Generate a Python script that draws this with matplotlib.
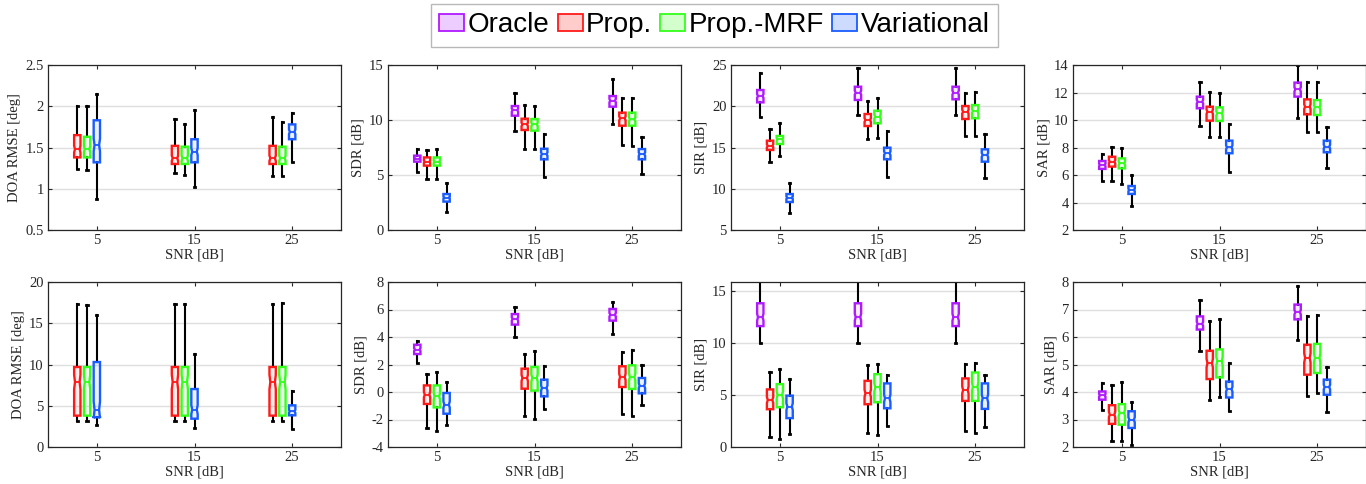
import numpy as np
import matplotlib
matplotlib.use("Agg")
import matplotlib.pyplot as plt
from matplotlib.patches import Patch

SNR = [5, 15, 25]
METHODS = ["Oracle", "Prop.", "Prop.-MRF", "Variational"]
COLORS = ["#B01AFF", "#FF1A1A", "#33FF1A", "#1A5CFF"]

# each entry: (whisker low, q1, median, q3, whisker high) for SNR 5, 15, 25
# --- top row ---
DOA1_PROP = [(1.24, 1.38, 1.48, 1.65, 2.00), (1.19, 1.30, 1.37, 1.52, 1.85), (1.15, 1.30, 1.37, 1.52, 1.87)]
DOA1_MRF = [(1.23, 1.38, 1.48, 1.63, 2.00), (1.17, 1.30, 1.37, 1.51, 1.79), (1.15, 1.30, 1.37, 1.51, 1.81)]
DOA1_VAR = [(0.88, 1.32, 1.53, 1.83, 2.15), (1.02, 1.32, 1.45, 1.60, 1.96), (1.32, 1.60, 1.69, 1.78, 1.92)]

SDR1_ORA = [(5.24, 6.21, 6.50, 6.76, 7.40), (9.00, 10.39, 10.90, 11.27, 12.50), (9.60, 11.21, 11.76, 12.18, 13.70)]
SDR1_PROP = [(4.67, 5.85, 6.20, 6.60, 7.27), (7.36, 9.09, 9.60, 10.12, 11.36), (7.73, 9.48, 10.15, 10.67, 12.00)]
SDR1_MRF = [(4.67, 5.85, 6.20, 6.60, 7.33), (7.36, 9.03, 9.60, 10.09, 11.30), (7.60, 9.48, 10.06, 10.67, 12.00)]
SDR1_VAR = [(1.60, 2.58, 2.94, 3.27, 4.30), (4.85, 6.42, 6.90, 7.39, 8.73), (5.06, 6.42, 6.90, 7.36, 8.48)]

SIR1_ORA = [(18.66, 20.47, 21.24, 21.97, 24.07), (18.94, 20.76, 21.65, 22.37, 24.60), (18.94, 20.84, 21.65, 22.37, 24.68)]
SIR1_PROP = [(13.28, 14.70, 15.20, 15.83, 17.24), (16.07, 17.60, 18.33, 19.06, 20.68), (16.40, 18.45, 19.34, 20.03, 21.65)]
SIR1_MRF = [(13.97, 15.42, 15.99, 16.40, 17.93), (16.19, 17.93, 18.74, 19.46, 21.05), (16.43, 18.54, 19.42, 20.15, 21.77)]
SIR1_VAR = [(7.10, 8.39, 8.92, 9.36, 10.74), (11.46, 13.57, 14.30, 14.98, 17.00), (11.26, 13.28, 14.10, 14.78, 16.60)]

SAR1_ORA = [(5.56, 6.44, 6.73, 7.02, 7.53), (9.59, 10.85, 11.33, 11.70, 12.79), (10.17, 11.70, 12.23, 12.72, 14.00)]
SAR1_PROP = [(5.56, 6.61, 6.97, 7.33, 8.06), (8.79, 9.95, 10.60, 10.97, 12.06), (9.15, 10.41, 10.97, 11.50, 12.74)]
SAR1_MRF = [(5.35, 6.48, 6.85, 7.21, 7.94), (8.74, 9.93, 10.48, 10.92, 11.99), (9.15, 10.36, 10.92, 11.45, 12.74)]
SAR1_VAR = [(3.75, 4.62, 4.91, 5.20, 6.00), (6.19, 7.58, 8.01, 8.50, 9.68), (6.48, 7.65, 8.06, 8.50, 9.52)]

# --- bottom row ---
DOA2_PROP = [(3.11, 3.80, 7.88, 9.70, 17.33), (3.11, 3.80, 7.88, 9.70, 17.33), (3.11, 3.80, 7.88, 9.70, 17.30)]
DOA2_MRF = [(3.11, 3.80, 7.88, 9.70, 17.25), (3.11, 3.80, 7.88, 9.70, 17.33), (3.11, 3.80, 7.88, 9.70, 17.40)]
DOA2_VAR = [(2.70, 3.60, 4.50, 10.30, 16.00), (2.30, 3.43, 4.53, 7.03, 11.27), (2.18, 3.84, 4.32, 5.05, 6.75)]

SDR2_ORA = [(2.11, 2.76, 3.08, 3.44, 3.68), (4.00, 4.90, 5.31, 5.67, 6.18), (4.24, 5.19, 5.62, 6.04, 6.55)]
SDR2_PROP = [(-2.62, -0.87, -0.19, 0.48, 1.31), (-1.77, 0.24, 1.02, 1.70, 2.79), (-1.58, 0.36, 1.09, 1.87, 2.91)]
SDR2_MRF = [(-2.86, -1.12, -0.32, 0.48, 1.43), (-1.94, 0.10, 1.02, 1.82, 2.96), (-1.77, 0.22, 1.09, 1.94, 3.03)]
SDR2_VAR = [(-2.42, -1.58, -0.92, -0.07, 0.73), (-1.24, -0.32, 0.29, 0.90, 1.87), (-0.97, -0.10, 0.46, 1.02, 1.99)]

SIR2_ORA = [(10.02, 11.65, 12.51, 13.85, 16.20), (10.00, 11.65, 12.51, 13.85, 16.20), (10.00, 11.65, 12.51, 13.85, 16.20)]
SIR2_PROP = [(0.93, 3.64, 4.53, 5.55, 7.24), (1.34, 4.12, 5.17, 6.38, 7.88), (1.50, 4.44, 5.49, 6.61, 7.98)]
SIR2_MRF = [(0.80, 3.83, 5.01, 6.06, 7.56), (1.18, 4.31, 5.74, 7.02, 8.04), (1.34, 4.44, 5.81, 7.18, 8.10)]
SIR2_VAR = [(1.24, 2.78, 3.89, 4.95, 6.51), (1.98, 3.73, 4.69, 6.13, 6.92), (1.88, 3.67, 4.69, 6.13, 6.92)]

SAR2_ORA = [(3.33, 3.72, 3.88, 4.02, 4.33), (5.50, 6.27, 6.48, 6.75, 7.33), (5.90, 6.64, 6.90, 7.18, 7.84)]
SAR2_PROP = [(2.21, 2.84, 3.18, 3.52, 4.24), (3.72, 4.47, 5.05, 5.50, 6.59), (3.87, 4.63, 5.24, 5.72, 6.75)]
SAR2_MRF = [(2.21, 2.81, 3.24, 3.56, 4.35), (3.82, 4.53, 5.12, 5.55, 6.65), (3.96, 4.69, 5.24, 5.75, 6.81)]
SAR2_VAR = [(2.06, 2.69, 2.99, 3.30, 3.64), (3.30, 3.80, 4.10, 4.38, 5.05), (3.27, 3.90, 4.18, 4.45, 4.91)]

PANELS = [
    # (series {method index: data}, ylabel, ylim, yticks)
    ({1: DOA1_PROP, 2: DOA1_MRF, 3: DOA1_VAR}, "DOA RMSE [deg]", (0.5, 2.5), [0.5, 1, 1.5, 2, 2.5]),
    ({0: SDR1_ORA, 1: SDR1_PROP, 2: SDR1_MRF, 3: SDR1_VAR}, "SDR [dB]", (0, 15), [0, 5, 10, 15]),
    ({0: SIR1_ORA, 1: SIR1_PROP, 2: SIR1_MRF, 3: SIR1_VAR}, "SIR [dB]", (5, 25), [5, 10, 15, 20, 25]),
    ({0: SAR1_ORA, 1: SAR1_PROP, 2: SAR1_MRF, 3: SAR1_VAR}, "SAR [dB]", (2, 14), [2, 4, 6, 8, 10, 12, 14]),
    ({1: DOA2_PROP, 2: DOA2_MRF, 3: DOA2_VAR}, "DOA RMSE [deg]", (0, 20), [0, 5, 10, 15, 20]),
    ({0: SDR2_ORA, 1: SDR2_PROP, 2: SDR2_MRF, 3: SDR2_VAR}, "SDR [dB]", (-4, 8), [-4, -2, 0, 2, 4, 6, 8]),
    ({0: SIR2_ORA, 1: SIR2_PROP, 2: SIR2_MRF, 3: SIR2_VAR}, "SIR [dB]", (0, 15.9), [0, 5, 10, 15]),
    ({0: SAR2_ORA, 1: SAR2_PROP, 2: SAR2_MRF, 3: SAR2_VAR}, "SAR [dB]", (2, 8), [2, 3, 4, 5, 6, 7, 8]),
]

plt.rcParams["font.family"] = ["Liberation Serif", "DejaVu Serif"]
plt.rcParams["font.size"] = 10.5

fig = plt.figure(figsize=(13.66, 4.84), dpi=100)
W, H = 1366, 484
lefts = [48, 388, 731, 1073]
tops = [65, 282]
aw, ah = 293, 165
BW = 0.65  # box width in x units

for k, (series, ylabel, ylim, yticks) in enumerate(PANELS):
    row, col = divmod(k, 4)
    ax = fig.add_axes([lefts[col] / W, 1 - (tops[row] + ah) / H, aw / W, ah / H])
    for j, (m, data) in enumerate(series.items()):
        # offsets: 4 methods -> -2..+1 ; 3 methods -> -2..0
        off = j - 2
        stats = []
        for lo, q1, med, q3, hi in data:
            ci = 0.15 * (q3 - q1)
            stats.append(dict(whislo=lo, q1=q1, med=med, q3=q3, whishi=hi,
                              cilo=med - ci, cihi=med + ci, fliers=[]))
        c = COLORS[m]
        pos = [s + off for s in SNR]
        art = ax.bxp(stats, positions=pos, widths=BW, shownotches=True,
                     showfliers=False, patch_artist=True, capwidths=0.12,
                     boxprops=dict(edgecolor=c, facecolor=matplotlib.colors.to_rgba(c, 0.08), lw=1.7, zorder=3),
                     medianprops=dict(color=c, lw=1.3, zorder=4),
                     whiskerprops=dict(color="black", lw=1.5, zorder=2),
                     capprops=dict(color="black", lw=2, zorder=2))
        # shallower notch waist, closer to the MATLAB look
        for box, p, ml in zip(art["boxes"], pos, art["medians"]):
            path = box.get_path()
            v = path.vertices
            waist = np.abs(v[:, 0] - p) < BW * 0.4
            v[waist, 0] = p + np.sign(v[waist, 0] - p) * BW * 0.36
            ml.set_xdata([p - BW * 0.36, p + BW * 0.36])
    ax.set_xlim(0, 30)
    ax.set_ylim(*ylim)
    ax.set_xticks(SNR)
    ax.set_xticklabels([str(s) for s in SNR])
    ax.set_yticks(yticks)
    ax.set_yticklabels([f"{t:g}" for t in yticks])
    ax.set_xlabel("SNR [dB]", labelpad=1, color="#262626")
    ax.set_ylabel(ylabel, labelpad=3, color="#262626")
    ax.yaxis.grid(True, color="#DFDFDF", lw=1)
    ax.set_axisbelow(True)
    ax.tick_params(direction="in", length=3, top=True, right=True,
                   colors="#262626", labelsize=10.5, pad=3)
    for sp in ax.spines.values():
        sp.set_color("#262626")
        sp.set_linewidth(0.9)

handles = [Patch(facecolor=matplotlib.colors.to_rgba(c, 0.22), edgecolor=c, lw=1.3) for c in COLORS]
leg = fig.legend(handles, METHODS, loc="upper center", bbox_to_anchor=(0.523, 0.992),
                 ncol=4, frameon=True, fancybox=False, edgecolor="#A6A6A6",
                 prop=dict(family=["Liberation Sans", "DejaVu Sans"], size=20),
                 handlelength=0.9, handleheight=0.6, handletextpad=0.12,
                 columnspacing=0.3, borderpad=0.3, borderaxespad=0)
leg.get_frame().set_linewidth(1)

fig.savefig("out.png", dpi=100)
